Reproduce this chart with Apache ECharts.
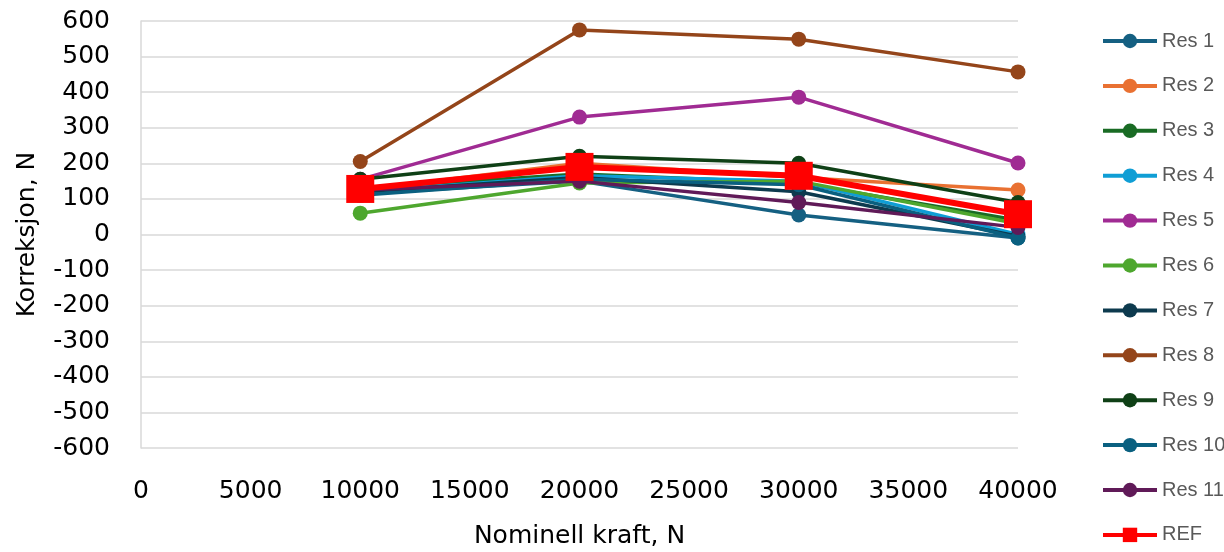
<!DOCTYPE html>
<html>
<head>
<meta charset="utf-8">
<script src="https://cdn.jsdelivr.net/npm/echarts@6/dist/echarts.min.js"></script>
<style>
  html, body { margin: 0; padding: 0; background: #fff; }
  #chart { width: 1224px; height: 552px; }
</style>
</head>
<body>
<div id="chart"></div>
<script>
// Nominal force levels (N)
const forces = [10000, 20000, 30000, 40000];

// Correction per reference unit (N)
const res1  = [115, 150, 55, -10];
const res2  = [125, 200, 160, 125];
const res3  = [130, 170, 145, 40];
const res4  = [120, 165, 150, 0];
const res5  = [155, 330, 386, 201];
const res6  = [60, 145, 150, 30];
const res7  = [120, 160, 120, -5];
const res8  = [205, 575, 549, 457];
const res9  = [155, 220, 200, 90];
const res10 = [110, 155, 140, -10];
const res11 = [125, 150, 90, 20];
const ref   = [128, 190, 165, 57];

const seriesNames = ['Res 1', 'Res 2', 'Res 3', 'Res 4', 'Res 5', 'Res 6',
                     'Res 7', 'Res 8', 'Res 9', 'Res 10', 'Res 11', 'REF'];
const seriesValues = [res1, res2, res3, res4, res5, res6,
                      res7, res8, res9, res10, res11, ref];
const colors = ['#156082', '#E97132', '#196B24', '#0F9ED5', '#A02B93', '#4EA72E',
                '#0D3A4E', '#94451A', '#0F4016', '#0A6080', '#601A58', '#FF0000'];

const axisFont = 'DejaVu Sans, Liberation Sans, sans-serif';
const legendFont = 'Liberation Sans, Arial, sans-serif';

const series = seriesNames.map((name, i) => {
  const isRef = name === 'REF';
  return {
    name,
    type: 'line',
    data: forces.map((f, j) => [f, seriesValues[i][j]]),
    symbol: isRef ? 'rect' : 'circle',
    symbolSize: isRef ? 28 : 15,
    showSymbol: true,
    lineStyle: { width: isRef ? 6 : 3.5, color: colors[i] },
    itemStyle: { color: colors[i] },
    z: 2 + i,
    animation: false
  };
});

const chart = echarts.init(document.getElementById('chart'), null, { renderer: 'canvas' });
chart.setOption({
  animation: false,
  color: colors,
  grid: {
    left: 141, right: 206, top: 21, bottom: 104,
    containLabel: false,
    outerBoundsMode: 'none'
  },
  legend: {
    orient: 'vertical',
    left: 1101,
    top: 31,
    padding: 0,
    itemWidth: 54,
    itemHeight: 18,
    itemGap: 24.9,
    lineStyle: { width: 4 },
    textStyle: { color: '#595959', fontSize: 20, fontFamily: legendFont },
    data: seriesNames
  },
  xAxis: {
    type: 'value',
    min: 0,
    max: 40000,
    interval: 5000,
    name: 'Nominell kraft, N',
    nameLocation: 'middle',
    nameGap: 76,
    nameTextStyle: { color: '#000', fontSize: 25, fontFamily: axisFont },
    axisLine: { show: false },
    axisTick: { show: false },
    splitLine: { show: false },
    axisLabel: {
      color: '#000', fontSize: 25, fontFamily: axisFont, margin: 31,
      formatter: v => String(v)
    }
  },
  yAxis: {
    type: 'value',
    min: -600,
    max: 600,
    interval: 100,
    name: 'Korreksjon, N',
    nameLocation: 'middle',
    nameGap: 101,
    nameRotate: 90,
    nameTextStyle: { color: '#000', fontSize: 25, fontFamily: axisFont },
    axisLine: { show: true, lineStyle: { color: '#d9d9d9', width: 1.5 } },
    axisTick: { show: false },
    splitLine: { show: true, lineStyle: { color: '#d9d9d9', width: 1.5 } },
    axisLabel: { color: '#000', fontSize: 25, fontFamily: axisFont, margin: 31 }
  },
  series
});
</script>
</body>
</html>
